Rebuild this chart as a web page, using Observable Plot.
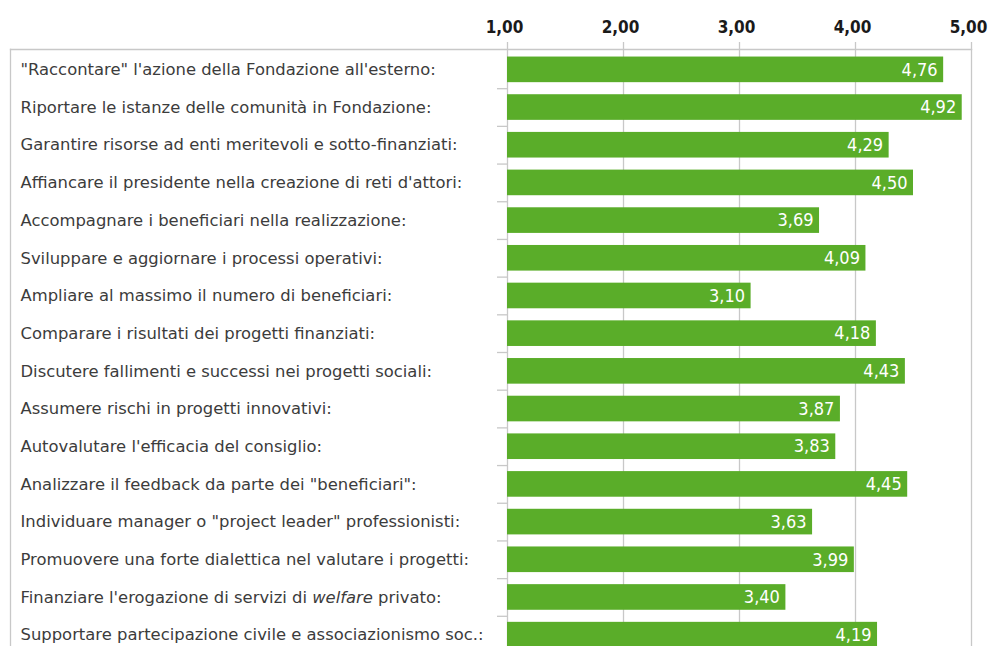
<!DOCTYPE html>
<html>
<head>
<meta charset="utf-8">
<script src="https://cdn.jsdelivr.net/npm/d3@7"></script>
<script src="https://cdn.jsdelivr.net/npm/@observablehq/plot@0.6"></script>
<style>
  html, body { margin: 0; padding: 0; background: #fff; overflow: hidden; }
  svg { display: block; overflow: visible; }
</style>
</head>
<body>
<div id="chart"></div>
<script>
const categories = [
  "\"Raccontare\" l'azione della Fondazione all'esterno:",
  "Riportare le istanze delle comunità in Fondazione:",
  "Garantire risorse ad enti meritevoli e sotto-finanziati:",
  "Affiancare il presidente nella creazione di reti d'attori:",
  "Accompagnare i beneficiari nella realizzazione:",
  "Sviluppare e aggiornare i processi operativi:",
  "Ampliare al massimo il numero di beneficiari:",
  "Comparare i risultati dei progetti finanziati:",
  "Discutere fallimenti e successi nei progetti sociali:",
  "Assumere rischi in progetti innovativi:",
  "Autovalutare l'efficacia del consiglio:",
  "Analizzare il feedback da parte dei \"beneficiari\":",
  "Individuare manager o \"project leader\" professionisti:",
  "Promuovere una forte dialettica nel valutare i progetti:",
  "Finanziare l'erogazione di servizi di welfare privato:",
  "Supportare partecipazione civile e associazionismo soc.:"
];
const values = [4.76, 4.92, 4.29, 4.50, 3.69, 4.09, 3.10, 4.18, 4.43, 3.87, 3.83, 4.45, 3.63, 3.99, 3.40, 4.19];
const ticks = [1, 2, 3, 4, 5];
const italicWord = "welfare";

const data = categories.map((label, i) => ({label, value: values[i]}));
const fmt = d => d.toFixed(2).replace(".", ",");

const W = 989, H = 655, mTop = 49, mLeft = 10, mRight = 18, mBottom = 0;
const pxPerUnit = 116;
const xMin = 1 - (971 - mLeft - 4 * pxPerUnit) / pxPerUnit;
const padIn = 0.32, padOut = 0.2;
const step = (H - mTop - mBottom) / (categories.length - padIn + 2 * padOut);

const grid = "#c8c8c8";
const green = "#5aad29";

const chart = Plot.plot({
  width: W, height: H,
  marginTop: mTop, marginLeft: mLeft, marginRight: mRight, marginBottom: mBottom,
  style: {fontFamily: "'DejaVu Sans Condensed', 'DejaVu Sans', sans-serif", background: "#fff", overflow: "visible"},
  x: {domain: [xMin, 5], axis: null, label: null},
  y: {domain: categories, paddingInner: padIn, paddingOuter: padOut, round: false, axis: null, label: null},
  marks: [
    Plot.ruleX(ticks, {stroke: grid, strokeWidth: 1.3}),
    Plot.frame({anchor: "top", stroke: grid, strokeWidth: 1.3}),
    Plot.frame({anchor: "left", stroke: grid, strokeWidth: 1.3}),
    Plot.axisX(ticks, {
      anchor: "top", tickSize: 8, label: null, tickFormat: null, text: null
    , stroke: grid, strokeWidth: 1.3}),
    Plot.text(ticks, {
      x: d => d, frameAnchor: "top", text: fmt, dy: -17, dx: -3,
      lineAnchor: "bottom", fill: "#1a1a1a", fontSize: 17, fontWeight: "bold"
    }),
    Plot.ruleY(categories.slice(1), {
      x1: 1 - 10 / pxPerUnit, x2: 1, dy: -step / 2, stroke: grid, strokeWidth: 1.3
    }),
    Plot.barX(data, {x1: 1, x2: "value", y: "label", fill: green}),
    Plot.text(data, {
      x: "value", y: "label", text: d => fmt(d.value),
      textAnchor: "end", dx: -6, fill: "#fff", fontSize: 18
    }),
    Plot.text(data, {
      y: "label", text: "label", frameAnchor: "left", textAnchor: "start",
      dx: 10, fill: "#3c3c3c", fontSize: 16.4, fontFamily: "'DejaVu Sans', sans-serif",
      render(index, scales, vals, dims, ctx, next) {
        const g = next(index, scales, vals, dims, ctx);
        const ns = "http://www.w3.org/2000/svg";
        for (const t of g.querySelectorAll("text")) {
          const s = t.textContent;
          const k = s.indexOf(italicWord);
          if (k >= 0) {
            t.textContent = "";
            const a = document.createElementNS(ns, "tspan");
            a.textContent = s.slice(0, k);
            const b = document.createElementNS(ns, "tspan");
            b.textContent = italicWord;
            b.setAttribute("font-style", "italic");
            const c = document.createElementNS(ns, "tspan");
            c.textContent = s.slice(k + italicWord.length);
            t.append(a, b, c);
          }
        }
        return g;
      }
    })
  ]
});
document.getElementById("chart").append(chart);
</script>
</body>
</html>
